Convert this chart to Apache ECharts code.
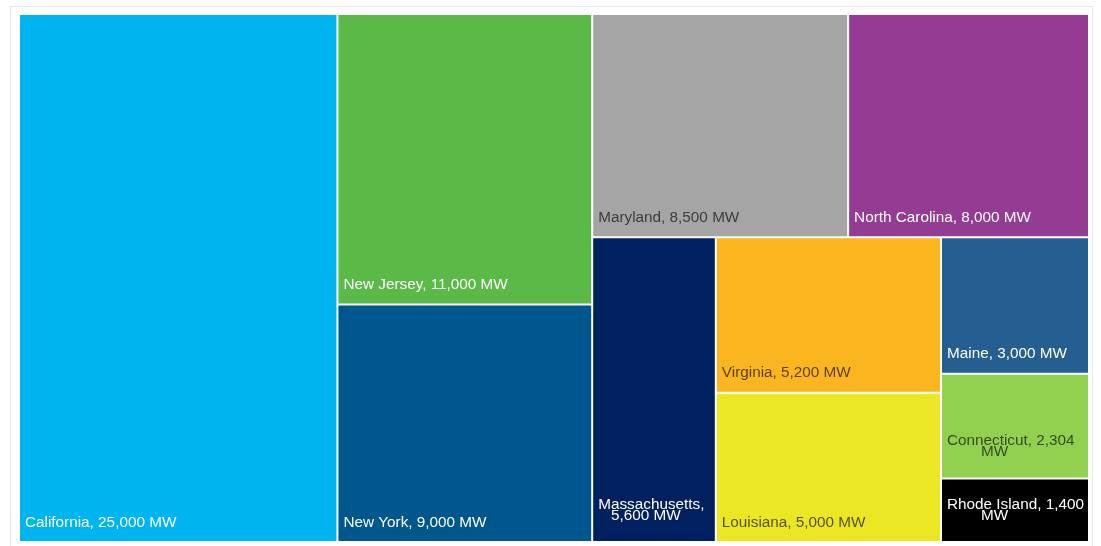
<!DOCTYPE html>
<html>
<head>
<meta charset="utf-8">
<title>Planned offshore wind capacity by state</title>
<script src="https://cdn.jsdelivr.net/npm/echarts@6/dist/echarts.min.js"></script>
<style>
  html, body { margin: 0; padding: 0; background: #ffffff; }
  #chart { width: 1101px; height: 546px; }
</style>
</head>
<body>
<div id="chart"></div>
<script>
// Offshore wind capacity targets by state (MW)
const states = ['California', 'New Jersey', 'New York', 'Maryland', 'North Carolina',
  'Massachusetts', 'Virginia', 'Louisiana', 'Maine', 'Connecticut', 'Rhode Island'];
const capacityMW = [25000, 11000, 9000, 8500, 8000, 5600, 5200, 5000, 3000, 2304, 1400];
const unit = 'MW';

// Tile fill colours, in the same order as the states
const tileColors = ['#00B4EF', '#5BB947', '#00578E', '#A5A5A5', '#943B93',
  '#002060', '#FBB51F', '#ECE724', '#255E91', '#92D050', '#000000'];
// Label colour per tile: light text on dark tiles, dark text on light ones
const lightText = '#ffffff';
const darkText = 'rgba(0,0,0,0.65)';
const labelColors = [lightText, lightText, lightText, darkText, lightText,
  lightText, darkText, darkText, lightText, darkText, lightText];

// Narrow tiles whose labels run onto a second line
const wrapped = {
  'Massachusetts': { split: 'afterName', indent: 3 },
  'Connecticut': { split: 'beforeUnit', indent: 8 },
  'Rhode Island': { split: 'beforeUnit', indent: 8 }
};

const fmt = v => v.toLocaleString('en-US');

function labelText(name, value) {
  const w = wrapped[name];
  const pad = w ? ' '.repeat(w.indent) : '';
  if (!w) return name + ', ' + fmt(value) + ' ' + unit;
  if (w.split === 'afterName') return name + ',\n' + pad + fmt(value) + ' ' + unit;
  return name + ', ' + fmt(value) + '\n' + pad + unit;
}

const data = states.map((name, i) => {
  const w = wrapped[name];
  return {
    name: name,
    value: capacityMW[i],
    itemStyle: { color: tileColors[i] },
    label: w
      ? { color: labelColors[i], lineHeight: 11, padding: [0, 0, 20, 5] }
      : { color: labelColors[i] }
  };
});

const chart = echarts.init(document.getElementById('chart'), null, { renderer: 'canvas' });

chart.setOption({
  animation: false,
  backgroundColor: '#ffffff',
  graphic: [{
    type: 'rect',
    silent: true,
    shape: { x: 10.5, y: 6.5, width: 1082, height: 580 },
    style: { fill: 'none', stroke: '#e8e4e8', lineWidth: 1 }
  }],
  series: [{
    type: 'treemap',
    left: 20,
    top: 15,
    width: 1068,
    height: 526,
    squareRatio: 0.785,
    sort: 'desc',
    roam: false,
    nodeClick: false,
    breadcrumb: { show: false },
    itemStyle: { borderColor: '#ffffff', borderWidth: 0, gapWidth: 2 },
    label: {
      show: true,
      position: 'insideBottomLeft',
      distance: 0,
      padding: [0, 0, 11, 5],
      fontFamily: '"Liberation Sans", Arial, sans-serif',
      fontSize: 15.3,
      lineHeight: 15,
      overflow: 'none',
      formatter: p => labelText(p.name, p.value)
    },
    emphasis: { disabled: true },
    data: data
  }]
});
</script>
</body>
</html>
